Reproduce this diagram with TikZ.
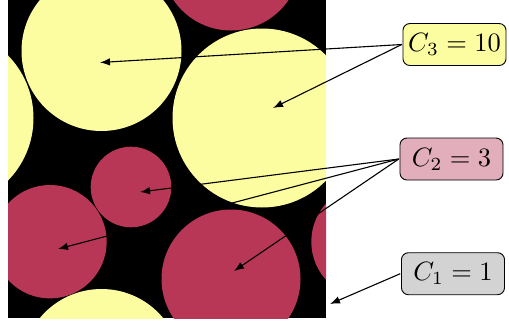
\documentclass[tikz,border=0pt]{standalone}
\usetikzlibrary{arrows.meta}
\definecolor{cyel}{RGB}{252,252,160}
\definecolor{cred}{RGB}{185,55,86}
\definecolor{cpink}{RGB}{226,174,188}
\definecolor{cgray}{RGB}{211,211,211}
\tikzset{
  lab/.style={draw=black, line width=0.9pt, scale=2.65, rounded corners=7pt, inner sep=0pt,
    minimum width=38.9pt, minimum height=15.85pt},
  ptr/.style={line width=1.1pt, -{Latex[length=10pt,width=7.5pt]}},
  ycirc/.style={fill=cyel},
  rcirc/.style={fill=cred}
}
\begin{document}
\begin{tikzpicture}[x=1pt,y=-1pt]
\useasboundingbox (0,0) rectangle (509,322);
\fill[black] (8,0) rectangle (326,318);
\begin{scope}
\clip (8,0) rectangle (326,318);
\fill[ycirc] (101.5,51) circle (80);
\fill[ycirc] (101.5,369) circle (80);
\fill[ycirc] (262,118) circle (89.5);
\fill[ycirc] (-56,118) circle (89.5);
\fill[rcirc] (231,279) circle (69.5);
\fill[rcirc] (231,-39) circle (69.5);
\fill[rcirc] (131,187) circle (40.3);
\fill[rcirc] (50,241.7) circle (56.7);
\fill[rcirc] (368,241.7) circle (56.7);
\end{scope}
\node[lab, fill=cyel] (c3) at (454.5,44.5) {$C_3 = 10$};
\node[lab, fill=cpink] (c2) at (451.5,159) {$C_2 = 3$};
\node[lab, fill=cgray] (c1) at (453,273.7) {$C_1 = 1$};
\coordinate (t31) at (100,62.5);
\coordinate (t32) at (273,108);
\coordinate (t21) at (140,192);
\coordinate (t22) at (58,249);
\coordinate (t23) at (234,271);
\coordinate (t11) at (330,304);
\draw[ptr] (c3.west) -- (t31);
\draw[ptr] (c3.west) -- (t32);
\draw[ptr] (c2.west) -- (t21);
\draw[ptr] (c2.west) -- (t22);
\draw[ptr] (c2.west) -- (t23);
\draw[ptr] (c1.west) -- (t11);
\end{tikzpicture}
\end{document}
